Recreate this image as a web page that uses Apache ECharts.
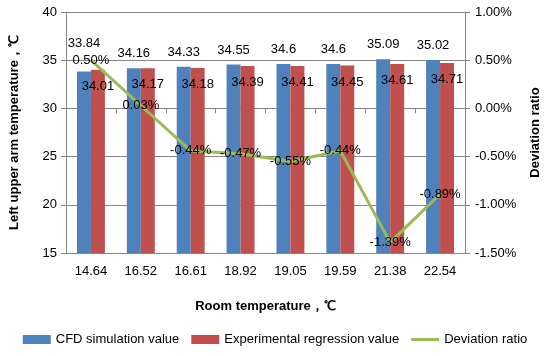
<!DOCTYPE html>
<html><head><meta charset="utf-8">
<script src="https://cdn.jsdelivr.net/npm/echarts@6/dist/echarts.min.js"></script>
<style>html,body{margin:0;padding:0;background:#fff}#c{width:550px;height:356px}</style>
</head><body><div id="c"></div>
<script>
var categories = ['14.64','16.52','16.61','18.92','19.05','19.59','21.38','22.54'];
var cfdValues = [33.84,34.16,34.33,34.55,34.6,34.6,35.09,35.02];
var expValues = [34.01,34.17,34.18,34.39,34.41,34.45,34.61,34.71];
var deviation = [0.50,0.03,-0.44,-0.47,-0.55,-0.44,-1.39,-0.89];

var FONT = 'Liberation Sans';
var chart = echarts.init(document.getElementById('c'));
var cfdData = cfdValues.map(function(v,i){
  var d = {value:v};
  if(i===0){ d.label = {offset:[0,-13]}; }
  return d;
});
chart.setOption({
  animation:false,
  textStyle:{fontFamily:FONT},
  grid:{left:57,right:78,top:12,bottom:103},
  legend:{
    bottom:5,left:'center',itemWidth:28,itemHeight:9,itemGap:12,
    textStyle:{fontFamily:FONT,fontSize:13,color:'#000'},
    data:[{name:'CFD simulation value',icon:'rect'},{name:'Experimental regression value',icon:'rect'},
          {name:'Deviation ratio',icon:'path://M0,3L28,3L28,6L0,6Z'}]
  },
  xAxis:{
    type:'category',data:categories,
    name:'Room temperature，℃',nameLocation:'middle',nameGap:47,
    nameTextStyle:{fontFamily:FONT,fontSize:13,fontWeight:'bold',color:'#000'},
    axisLine:{lineStyle:{color:'#868686'}},
    axisTick:{show:true,inside:false,length:5,lineStyle:{color:'#868686'}},
    axisLabel:{fontFamily:FONT,fontSize:13,color:'#000',margin:12}
  },
  yAxis:[{
    type:'value',min:15,max:40,interval:5,
    name:'Left upper arm temperature，℃',nameLocation:'middle',nameGap:45,
    nameTextStyle:{fontFamily:FONT,fontSize:13,fontWeight:'bold',color:'#000'},
    axisLine:{show:true,lineStyle:{color:'#868686'}},
    axisTick:{show:true,length:5,lineStyle:{color:'#868686'}},
    axisLabel:{fontFamily:FONT,fontSize:13,color:'#000',margin:9},
    splitLine:{lineStyle:{color:'#868686'}}
  },{
    type:'value',min:-1.5,max:1.0,interval:0.5,
    name:'Deviation ratio',nameLocation:'middle',nameGap:64,
    nameTextStyle:{fontFamily:FONT,fontSize:13,fontWeight:'bold',color:'#000'},
    axisLine:{show:true,lineStyle:{color:'#868686'}},
    axisTick:{show:true,length:5,lineStyle:{color:'#868686'}},
    axisLabel:{fontFamily:FONT,fontSize:13,color:'#000',margin:10,formatter:function(v){return v.toFixed(2)+'%';}},
    splitLine:{show:false}
  }],
  series:[{
    name:'CFD simulation value',type:'bar',data:cfdData,
    barGap:'0%',barCategoryGap:'44%',
    itemStyle:{color:'#4f81bd'},
    label:{show:true,position:'top',distance:8,fontFamily:FONT,fontSize:13,color:'#000'}
  },{
    name:'Experimental regression value',type:'bar',data:expValues,
    itemStyle:{color:'#c0504d'},
    label:{show:true,position:'insideTop',distance:10,fontFamily:FONT,fontSize:13,color:'#000'}
  },{
    name:'Deviation ratio',type:'line',yAxisIndex:1,data:deviation,
    symbol:'circle',symbolSize:0,
    lineStyle:{color:'#9bbb59',width:3},itemStyle:{color:'#9bbb59'},
    label:{show:true,position:'inside',fontFamily:FONT,fontSize:13,color:'#000',formatter:function(p){return p.value.toFixed(2)+'%';}},
    z:5
  }]
});
</script></body></html>
